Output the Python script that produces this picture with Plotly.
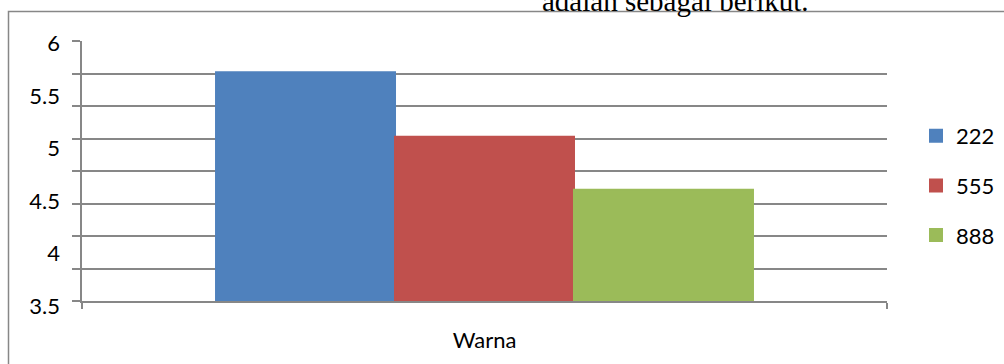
import plotly.graph_objects as go

categories = ["Warna"]
series_names = ["222", "555", "888"]
series_values = [[5.70], [5.08], [4.57]]
series_colors = ["#4F81BD", "#C0504D", "#9BBB59"]
y_tick_values = [3.5, 4, 4.5, 5, 5.5, 6]
y_tick_labels = ["3.5", "4", "4.5", "5", "5.5", "6"]
caption_text = "adalah sebagai berikut."

W, H = 1004, 364
ML, MR, MT, MB = 82, 117, 41, 50
PH = H - MT - MB          # paper height in px
PW = W - ML - MR

def py(px):  # pixel y -> paper y
    return 1 - (px - MT) / PH

def pxx(px):  # pixel x -> paper x
    return (px - ML) / PW

GRID = "#878787"
FONT = "Lato"

fig = go.Figure()
for name, vals, col in zip(series_names, series_values, series_colors):
    fig.add_trace(go.Bar(x=categories, y=vals, name=name, marker_color=col,
                         marker_line=dict(color=col, width=2), legendgroup=name))

# invisible helper trace for the tick-label axis
fig.add_trace(go.Scatter(x=[], y=[], yaxis="y2", showlegend=False, hoverinfo="skip"))

fig.update_layout(
    width=W, height=H, autosize=False,
    margin=dict(l=ML, r=MR, t=MT, b=MB, pad=0, autoexpand=False),
    paper_bgcolor="white", plot_bgcolor="rgba(0,0,0,0)",
    barmode="group", bargap=0.333, bargroupgap=0,
    font=dict(family=FONT, size=22, color="#000000"),
    xaxis=dict(type="category", tickson="boundaries", ticks="outside", ticklen=6,
               tickcolor=GRID, tickwidth=1.5, showline=True, linecolor=GRID,
               linewidth=1.5, showgrid=False, tickfont=dict(family=FONT, size=22),
               ticklabelstandoff=19, anchor="y", automargin=False),
    yaxis=dict(domain=[py(301), 1], range=[3.5, 6], tick0=3.5, dtick=0.3125,
               showgrid=True, gridcolor=GRID, gridwidth=1.5, ticks="outside",
               ticklen=8, tickcolor=GRID, tickwidth=1.5, showticklabels=False,
               showline=True, linecolor=GRID, linewidth=1.5, zeroline=False,
               automargin=False),
    yaxis2=dict(domain=[0, 1], anchor="free", position=0,
                range=[3.5 - (314 - 306) * 2.5 / 262.7, 6 + (43.3 - 41) * 2.5 / 262.7],
                tickvals=y_tick_values, ticktext=y_tick_labels, ticks="",
                showgrid=False, showline=False, zeroline=False, automargin=False,
                ticklabelstandoff=22, tickfont=dict(family=FONT, size=22)),
    legend=dict(x=pxx(916), xanchor="left", y=py(115), yanchor="top",
                traceorder="grouped", tracegroupgap=18,
                font=dict(family=FONT, size=22), bgcolor="rgba(0,0,0,0)"),
    shapes=[dict(type="rect", xref="paper", yref="paper",
                 x0=pxx(8.5), x1=pxx(1100), y0=py(500), y1=py(11.5),
                 line=dict(color=GRID, width=1.5), layer="below")],
    annotations=[dict(text=caption_text, xref="paper", yref="paper",
                      x=pxx(540), y=py(1), xanchor="left", yanchor="middle",
                      showarrow=False,
                      font=dict(family="Liberation Serif", size=29, color="#000000"))],
)

fig.write_html("out.html")
